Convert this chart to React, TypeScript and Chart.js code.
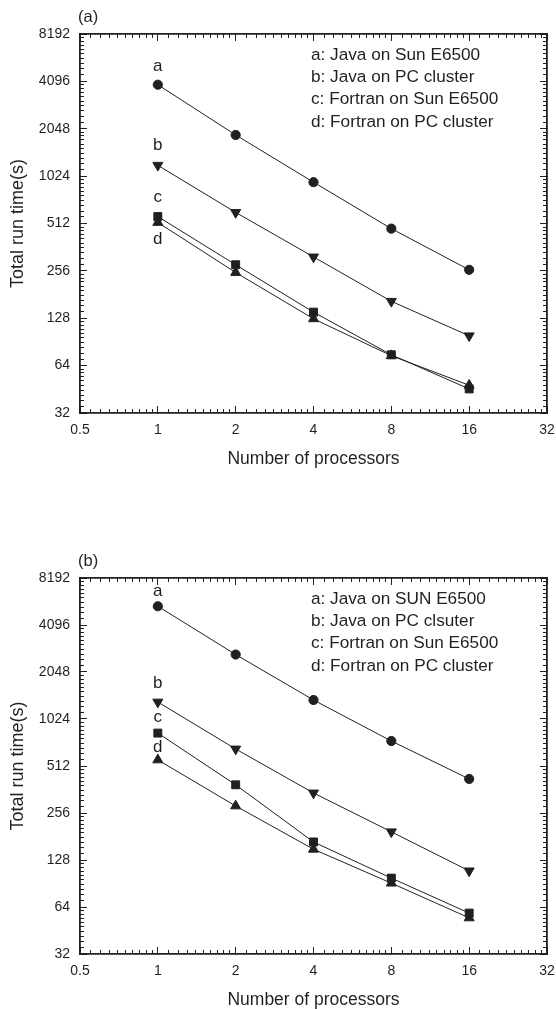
import React, { useEffect, useRef } from 'react';
import { Chart, registerables } from 'chart.js';

Chart.register(...registerables);

// ---------- data ----------
const processors = [1, 2, 4, 8, 16];
const xTickValues = [0.5, 1, 2, 4, 8, 16, 32];
const yTickValues = [32, 64, 128, 256, 512, 1024, 2048, 4096, 8192];
const seriesLetters = ['a', 'b', 'c', 'd'];

// panel (a)
const javaSunA = [3900, 1870, 937, 475, 260];
const javaPcA = [1200, 602, 314, 164, 99];
const fortranSunA = [567, 280, 140, 75, 45.5];
const fortranPcA = [520, 250, 127, 74, 48];
const legendA = [
  'a: Java on Sun E6500',
  'b: Java on PC cluster',
  'c: Fortran on Sun E6500',
  'd: Fortran on PC cluster',
];

// panel (b)
const javaSunB = [5400, 2650, 1355, 740, 423];
const javaPcB = [1315, 658, 344, 194, 109];
const fortranSunB = [832, 388, 167, 98, 58.5];
const fortranPcB = [560, 284, 150, 91, 54.5];
const legendB = [
  'a: Java on SUN E6500',
  'b: Java on PC clsuter',
  'c: Fortran on Sun E6500',
  'd: Fortran on PC cluster',
];

const xTitle = 'Number of processors';
const yTitle = 'Total run time(s)';

// ---------- styling ----------
const INK = '#231f20';
const FONT = "'Liberation Sans', Arial, Helvetica, sans-serif";

function minorTicks(majors: number[]) {
  const out: number[] = [];
  for (let i = 0; i < majors.length - 1; i++) {
    const step = (majors[i + 1] - majors[i]) / 10;
    for (let k = 1; k < 10; k++) out.push(majors[i] + k * step);
  }
  return out;
}

const markerStyles = [
  { pointStyle: 'circle', radius: 4.6, rotation: 0 },
  { pointStyle: 'triangle', radius: 5.8, rotation: 180 },
  { pointStyle: 'rect', radius: 5.6, rotation: 0 },
  { pointStyle: 'triangle', radius: 5.8, rotation: 0 },
];

type PanelProps = {
  top: number;
  height: number;
  areaTop: number;
  areaBottom: number;
  series: number[][];
  legend: string[];
  panelLabel: string;
  letterOffsets: number[];
};

function Panel(p: PanelProps) {
  const ref = useRef<HTMLCanvasElement>(null);

  useEffect(() => {
    const AXIS_H = 55;
    const AXIS_W = 80;
    const majorLen = -7;
    const minorLen = -4;

    const hAxis = (position: string, weight: number, values: number[], tl: number, border: boolean, labels: boolean) => ({
      type: 'logarithmic',
      axis: 'x',
      position,
      weight,
      min: 0.5,
      max: 32,
      afterBuildTicks: (s: any) => {
        s.ticks = values.map((v) => ({ value: v }));
      },
      afterFit: (s: any) => {
        s.height = labels ? AXIS_H : 0;
        s.paddingLeft = 0;
        s.paddingRight = 0;
      },
      ticks: {
        display: labels,
        autoSkip: false,
        maxRotation: 0,
        padding: 16,
        color: INK,
        font: { family: FONT, size: 14 },
        callback: (v: any) => String(v),
      },
      grid: { drawOnChartArea: false, drawTicks: true, tickLength: tl, tickWidth: 1, tickColor: INK },
      border: { display: border, width: 1.8, color: INK },
      title: labels
        ? { display: true, text: xTitle, color: INK, font: { family: FONT, size: 17.5, lineHeight: 1 }, padding: { top: 0, bottom: 0 } }
        : { display: false },
    });

    const vAxis = (position: string, weight: number, values: number[], tl: number, border: boolean, labels: boolean) => ({
      type: 'logarithmic',
      axis: 'y',
      position,
      weight,
      min: 32,
      max: 8192,
      afterBuildTicks: (s: any) => {
        s.ticks = values.map((v) => ({ value: v }));
      },
      afterFit: (s: any) => {
        s.width = labels ? AXIS_W : 0;
        s.paddingTop = 0;
        s.paddingBottom = 0;
      },
      ticks: {
        display: labels,
        autoSkip: false,
        padding: 17,
        color: INK,
        font: { family: FONT, size: 14 },
        callback: (v: any) => String(v),
      },
      grid: { drawOnChartArea: false, drawTicks: true, tickLength: tl, tickWidth: 1, tickColor: INK },
      border: { display: border, width: 1.8, color: INK },
      title: labels
        ? { display: true, text: yTitle, color: INK, font: { family: FONT, size: 18, lineHeight: 1 }, padding: { top: 9, bottom: 0 } }
        : { display: false },
    });

    const xMinor = minorTicks(xTickValues);
    const yMinor = minorTicks(yTickValues);

    const annotations = {
      id: 'annotations',
      afterDatasetsDraw(chart: any) {
        const { ctx, chartArea } = chart;
        ctx.save();
        ctx.fillStyle = INK;
        // panel label
        ctx.font = `16.5px ${FONT}`;
        ctx.textAlign = 'left';
        ctx.textBaseline = 'middle';
        ctx.fillText(p.panelLabel, chartArea.left - 2, chartArea.top - 17);
        // series letters next to the first point
        ctx.font = `17px ${FONT}`;
        ctx.textAlign = 'center';
        chart.data.datasets.forEach((_: any, i: number) => {
          const pt = chart.getDatasetMeta(i).data[0];
          if (pt) ctx.fillText(seriesLetters[i], pt.x, pt.y + p.letterOffsets[i]);
        });
        // legend text block
        ctx.font = `17.2px ${FONT}`;
        ctx.textAlign = 'left';
        p.legend.forEach((t, i) => {
          ctx.fillText(t, chartArea.left + 231, chartArea.top + 21 + i * 22.3);
        });
        ctx.restore();
      },
    };

    const chart = new Chart(ref.current as HTMLCanvasElement, {
      type: 'line',
      data: {
        labels: processors,
        datasets: p.series.map((vals, i) => ({
          label: seriesLetters[i],
          data: processors.map((x, j) => ({ x, y: vals[j] })),
          borderColor: INK,
          borderWidth: 1,
          backgroundColor: INK,
          pointBackgroundColor: INK,
          pointBorderColor: INK,
          pointBorderWidth: 1,
          pointStyle: markerStyles[i].pointStyle as any,
          pointRadius: markerStyles[i].radius,
          pointRotation: markerStyles[i].rotation,
          tension: 0,
          xAxisID: 'x',
          yAxisID: 'y',
        })),
      },
      options: {
        responsive: false,
        animation: false,
        devicePixelRatio: 1,
        layout: {
          padding: { left: 0, right: 9, top: p.areaTop, bottom: p.height - p.areaBottom - AXIS_H },
        },
        plugins: { legend: { display: false }, tooltip: { enabled: false }, title: { display: false } },
        scales: {
          x: hAxis('bottom', 1, xTickValues, majorLen, true, true),
          xMinorB: hAxis('bottom', 0, xMinor, minorLen, false, false),
          xTop: hAxis('top', 0, xTickValues, majorLen, true, false),
          xMinorT: hAxis('top', 0, xMinor, minorLen, false, false),
          y: vAxis('left', 1, yTickValues, majorLen, true, true),
          yMinorL: vAxis('left', 0, yMinor, minorLen, false, false),
          yRight: vAxis('right', 0, yTickValues, majorLen, true, false),
          yMinorR: vAxis('right', 0, yMinor, minorLen, false, false),
        } as any,
      },
      plugins: [annotations],
    } as any);

    return () => chart.destroy();
  }, []);

  return (
    <canvas
      ref={ref}
      width={556}
      height={p.height}
      style={{ position: 'absolute', left: 0, top: p.top, display: 'block', width: 556, height: p.height }}
    />
  );
}

export default function App() {
  return (
    <div style={{ position: 'absolute', left: 0, top: 0, width: 556, height: 1009, overflow: 'hidden', background: '#fff' }}>
      <Panel
        top={0}
        height={490}
        areaTop={34}
        areaBottom={413}
        series={[javaSunA, javaPcA, fortranSunA, fortranPcA]}
        legend={legendA}
        panelLabel="(a)"
        letterOffsets={[-18, -20, -19, 17]}
      />
      <Panel
        top={490}
        height={519}
        areaTop={88}
        areaBottom={464}
        series={[javaSunB, javaPcB, fortranSunB, fortranPcB]}
        legend={legendB}
        panelLabel="(b)"
        letterOffsets={[-15, -19, -16, -13]}
      />
    </div>
  );
}
